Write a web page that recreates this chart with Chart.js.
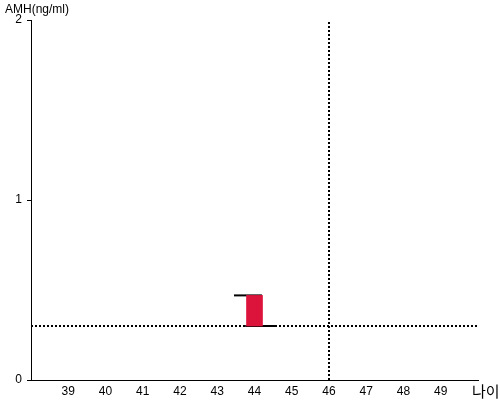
<!DOCTYPE html>
<html>
<head>
<meta charset="utf-8">
<script src="https://cdn.jsdelivr.net/npm/chart.js@4/dist/chart.umd.min.js"></script>
<style>
  body { margin: 0; background: #fff; }
  #wrap { width: 500px; height: 400px; }
</style>
</head>
<body>
<div id="wrap"><canvas id="amhChart" width="500" height="400"></canvas></div>
<script>
// data
const ageMin = 38;
const ageMax = 50;
const amhMin = 0;
const amhMax = 2;
const barAge = [44];
const amhLow = [0.3];
const amhHigh = [0.47];
const topCapAges = [43.45, 44.2];
const bottomCapAges = [43.75, 44.55];
const cutoffAmh = 0.3;
const cutoffAge = 46;

const axisTitles = {
    id: "axisTitles",
    afterDraw(chart) {
        const ctx = chart.ctx;
        ctx.save();
        ctx.fillStyle = "#000";
        ctx.textBaseline = "middle";
        ctx.font = "12px 'Liberation Sans', Arial, sans-serif";
        ctx.textAlign = "left";
        ctx.fillText("AMH(ng/ml)", 5, 10);
        ctx.font = "15px 'Noto Sans CJK KR', sans-serif";
        ctx.fillText("나이", 472, 391);
        ctx.restore();
    }
};

document.addEventListener("DOMContentLoaded", () => {
    const ctx = document.getElementById("amhChart").getContext("2d");

    const lineSet = (data, dash) => ({
        type: "line",
        data,
        borderColor: "#000",
        borderWidth: 2,
        borderDash: dash,
        pointRadius: 0,
        fill: false,
        clip: false,
    });

    new Chart(ctx, {
        type: "bar",
        data: {
            datasets: [
                {
                    data: barAge.map((a, i) => ({ x: a, y: [amhLow[i], amhHigh[i]] })),
                    backgroundColor: "#dc143c",
                    barThickness: 16,
                },
                lineSet(topCapAges.map((a) => ({ x: a, y: amhHigh[0] })), []),
                lineSet(bottomCapAges.map((a) => ({ x: a, y: amhLow[0] })), []),
                lineSet([{ x: ageMin, y: cutoffAmh }, { x: ageMax, y: cutoffAmh }], [2, 2]),
                lineSet([{ x: cutoffAge, y: amhMin }, { x: cutoffAge, y: amhMax }], [2, 2]),
            ],
        },
        options: {
            responsive: false,
            animation: false,
            layout: { padding: { top: 20, right: 22, left: 0, bottom: 0 } },
            plugins: { legend: { display: false }, tooltip: { enabled: false } },
            scales: {
                x: {
                    type: "linear",
                    min: ageMin,
                    max: ageMax,
                    offset: false,
                    grid: { display: false, drawTicks: false },
                    border: { display: true, color: "#000", width: 1 },
                    ticks: {
                        stepSize: 1,
                        padding: 4,
                        color: "#000",
                        font: { size: 12, family: "'Liberation Sans', Arial, sans-serif" },
                        callback: (v) => (v === ageMin || v === ageMax ? "" : v),
                    },
                    afterFit: (scale) => { scale.height = 20; },
                },
                y: {
                    min: amhMin,
                    max: amhMax,
                    grid: { drawOnChartArea: false, drawTicks: true, tickLength: 4, color: "#000" },
                    border: { display: true, color: "#000", width: 1 },
                    ticks: {
                        stepSize: 1,
                        padding: 5,
                        color: "#000",
                        font: { size: 12, family: "'Liberation Sans', Arial, sans-serif" },
                    },
                    afterFit: (scale) => { scale.width = 31; },
                },
            },
        },
        plugins: [axisTitles],
    });
});
</script>
</body>
</html>
